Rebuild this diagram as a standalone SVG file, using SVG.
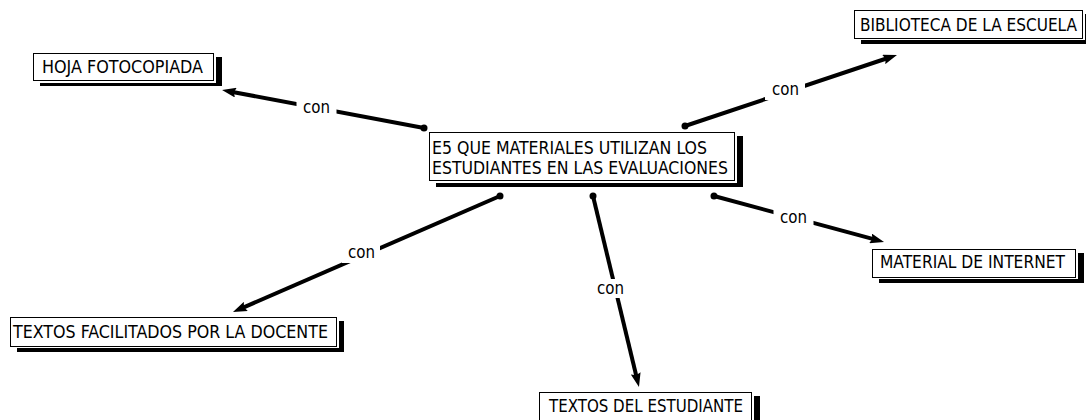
<svg xmlns="http://www.w3.org/2000/svg" width="1086" height="420" viewBox="0 0 1086 420">
<defs>
<style>
.shadow{fill:#000}
.gap{fill:#fff}
.box{fill:#fff;stroke:#000;stroke-width:1}
.t{font-family:"DejaVu Sans Condensed","DejaVu Sans",sans-serif;font-stretch:condensed;font-size:17px;fill:#000}
.edge{stroke:#000;stroke-width:4;fill:none;marker-end:url(#arrow)}
.dot{fill:#000}
.lbg{fill:#fff}
</style>
<marker id="arrow" markerUnits="userSpaceOnUse" markerWidth="14" markerHeight="10" refX="6" refY="5" orient="auto" viewBox="0 0 14 10">
<path d="M0,0 L14,5 L0,10 L2,5 z" fill="#000"/>
</marker>
</defs>
<rect width="1086" height="420" fill="#fff"/>
<g id="connectors">
<g id="c-hoja">
<line class="edge" x1="424" y1="128" x2="229.9" y2="91.5"/>
<circle class="dot" cx="424" cy="128" r="3.5"/>
<rect class="lbg" x="296.5" y="98" width="40" height="20"/>
<text class="t" x="303" y="113" textLength="27" lengthAdjust="spacingAndGlyphs">con</text>
</g>
<g id="c-biblio">
<line class="edge" x1="685" y1="126" x2="889.4" y2="57.5"/>
<circle class="dot" cx="685" cy="126" r="3.5"/>
<rect class="lbg" x="765" y="80" width="40" height="20"/>
<text class="t" x="772" y="95" textLength="27" lengthAdjust="spacingAndGlyphs">con</text>
</g>
<g id="c-material">
<line class="edge" x1="714" y1="196" x2="876.3" y2="239.9"/>
<circle class="dot" cx="714" cy="196" r="3.5"/>
<rect class="lbg" x="773.5" y="208" width="40" height="20"/>
<text class="t" x="780" y="223" textLength="27" lengthAdjust="spacingAndGlyphs">con</text>
</g>
<g id="c-facilitados">
<line class="edge" x1="500" y1="196" x2="240.3" y2="308.8"/>
<circle class="dot" cx="500" cy="196" r="3.5"/>
<rect class="lbg" x="342" y="243" width="38" height="20"/>
<text class="t" x="348" y="258" textLength="27" lengthAdjust="spacingAndGlyphs">con</text>
</g>
<g id="c-estudiante">
<line class="edge" x1="593" y1="196" x2="637.1" y2="379.2"/>
<circle class="dot" cx="593" cy="196" r="3.5"/>
<rect class="lbg" x="594" y="279" width="33" height="19"/>
<text class="t" x="597" y="294" textLength="27" lengthAdjust="spacingAndGlyphs">con</text>
</g>
</g>
<g id="n-center">
<rect class="shadow" x="436" y="136" width="307" height="51"/>
<rect class="gap" x="428" y="131" width="309" height="52"/>
<rect class="box" x="429.5" y="132.5" width="305" height="48"/>
<text class="t" x="432" y="153.5" textLength="275" lengthAdjust="spacingAndGlyphs">E5 QUE MATERIALES UTILIZAN LOS</text>
<text class="t" x="432" y="174" textLength="296" lengthAdjust="spacingAndGlyphs">ESTUDIANTES EN LAS EVALUACIONES</text>
</g>
<g id="n-hoja">
<rect class="shadow" x="40" y="57" width="182" height="29"/>
<rect class="gap" x="32" y="52" width="184" height="31"/>
<rect class="box" x="33.5" y="53.5" width="180" height="27"/>
<text class="t" x="42" y="72.5" textLength="161" lengthAdjust="spacingAndGlyphs">HOJA FOTOCOPIADA</text>
</g>
<g id="n-biblio">
<rect class="shadow" x="861" y="14" width="230" height="30"/>
<rect class="gap" x="853" y="9" width="232" height="31"/>
<rect class="box" x="854.5" y="10.5" width="228" height="28"/>
<text class="t" x="860" y="30.5" textLength="217" lengthAdjust="spacingAndGlyphs">BIBLIOTECA DE LA ESCUELA</text>
</g>
<g id="n-material">
<rect class="shadow" x="879" y="253" width="205" height="30"/>
<rect class="gap" x="871" y="248" width="207" height="31"/>
<rect class="box" x="872.5" y="249.5" width="203" height="28"/>
<text class="t" x="880" y="268" textLength="185" lengthAdjust="spacingAndGlyphs">MATERIAL DE INTERNET</text>
</g>
<g id="n-facilitados">
<rect class="shadow" x="17" y="321" width="327" height="31"/>
<rect class="gap" x="9" y="316" width="330" height="32"/>
<rect class="box" x="10.5" y="317.5" width="326" height="29"/>
<text class="t" x="13" y="338" textLength="315" lengthAdjust="spacingAndGlyphs">TEXTOS FACILITADOS POR LA DOCENTE</text>
</g>
<g id="n-estudiante">
<rect class="shadow" x="546" y="396" width="214" height="30"/>
<rect class="gap" x="538" y="391" width="216" height="31"/>
<rect class="box" x="539.5" y="392.5" width="212" height="28"/>
<text class="t" x="549" y="412" textLength="194" lengthAdjust="spacingAndGlyphs">TEXTOS DEL ESTUDIANTE</text>
</g>
</svg>
